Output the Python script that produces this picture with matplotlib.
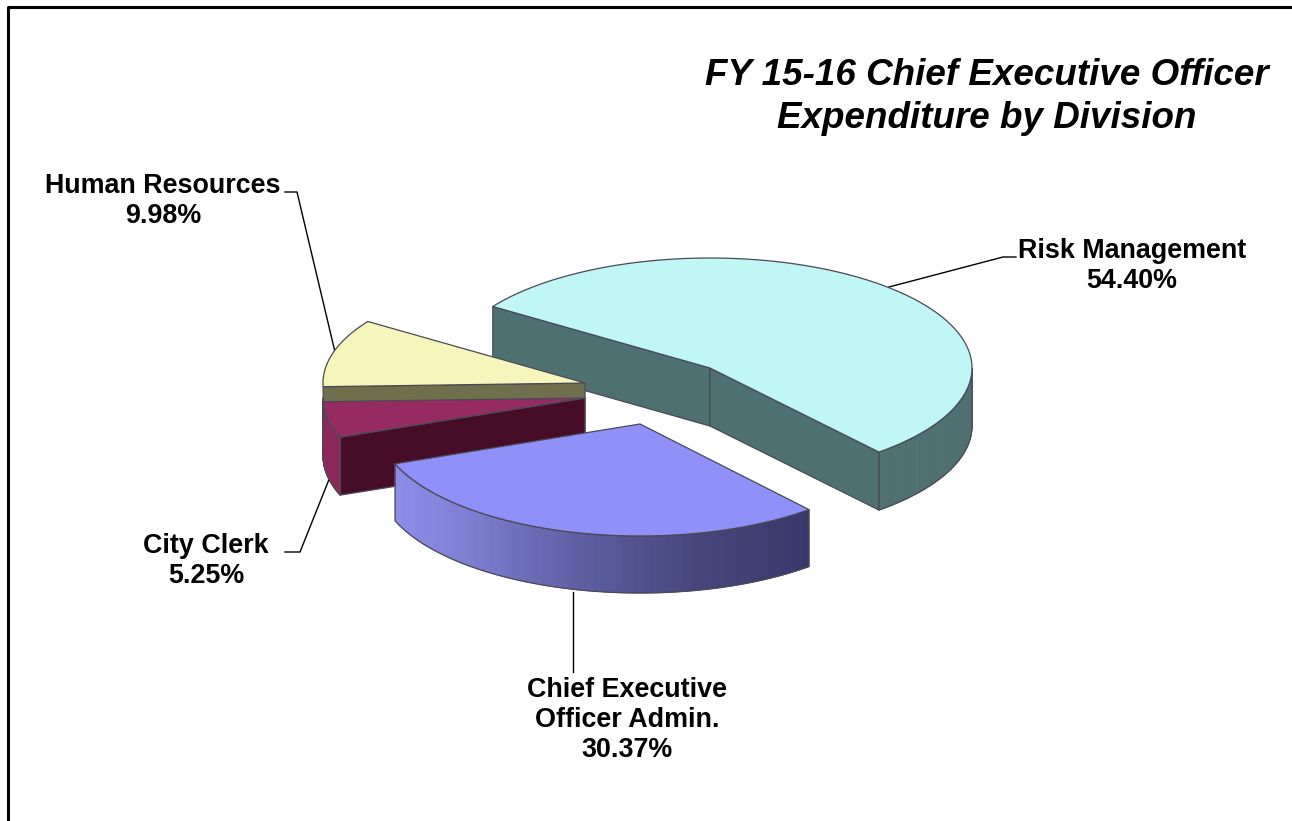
#!/usr/bin/env python3
"""FY 15-16 Chief Executive Officer expenditure by division, as a 3-D style pie."""
import numpy as np
import matplotlib

matplotlib.use("Agg")
import matplotlib.pyplot as plt
from matplotlib.colors import to_rgb
from matplotlib.patches import Polygon

WIDTH, HEIGHT = 1292, 821

DIVISIONS = ["Risk Management", "Chief Executive\nOfficer Admin.", "City Clerk", "Human Resources"]
SHARES = [54.40, 30.37, 5.25, 9.98]

TOP_COLORS = ["#c0f6f6", "#8f90f8", "#962a62", "#f6f6bc"]
EDGE = "#4a4a55"

# pie geometry in pixels
START = 146.0
RX = 262.0
RY = [110.0, 112.0, 110.0, 110.0]
DEPTH = [58.0, 57.0, 58.0, 58.0]
CENTERS = [(710, 368), (640, 424), (585, 398), (585, 383)]


def arc(i, a0, a1, n=90):
    cx, cy = CENTERS[i]
    t = np.radians(np.linspace(a0, a1, n))
    return np.column_stack([cx + RX * np.cos(t), cy - RY[i] * np.sin(t)])


def add_poly(ax, pts, face, z, edge=EDGE, lw=0.9):
    ax.add_patch(Polygon(pts, closed=True, facecolor=face, edgecolor=edge, linewidth=lw,
                         joinstyle="round", zorder=z))


def draw_rim(ax, i, a0, a1, stops, z):
    """Outer curved wall between angles a0 and a1, shaded through the colour stops."""
    pts = arc(i, a0, a1)
    drop = np.array([0, DEPTH[i]])
    rgb = np.array([to_rgb(c) for c in stops])
    pos = np.linspace(0, 1, len(stops))
    n = len(pts) - 1
    for k in range(n):
        f = k / max(n - 1, 1)
        col = [np.interp(f, pos, rgb[:, j]) for j in range(3)]
        p, q = pts[k], pts[k + 1]
        ax.add_patch(Polygon([p, q, q + drop, p + drop], closed=True, facecolor=col,
                             edgecolor=col, linewidth=0.6, zorder=z))
    add_poly(ax, np.vstack([pts, pts[::-1] + drop]), "none", z)


def cut_wall(ax, i, ang, color, z):
    rim = arc(i, ang, ang, 1)[0]
    apex = np.array(CENTERS[i], dtype=float)
    drop = np.array([0, DEPTH[i]])
    add_poly(ax, [apex, rim, rim + drop, apex + drop], color, z)


def main():
    plt.rcParams["font.family"] = ["Liberation Sans", "DejaVu Sans"]
    fig = plt.figure(figsize=(WIDTH / 100, HEIGHT / 100), dpi=100)
    ax = fig.add_axes([0, 0, 1, 1])
    ax.set_xlim(0, WIDTH)
    ax.set_ylim(HEIGHT, 0)
    ax.axis("off")

    # slice angles run clockwise from START
    sweep = np.array(SHARES) * 3.6
    ends = START - np.cumsum(sweep)
    starts = ends + sweep

    # risk management sits behind the rest
    wall = "#4f7070"
    cut_wall(ax, 0, starts[0], wall, 2)
    cut_wall(ax, 0, ends[0], wall, 2)
    draw_rim(ax, 0, ends[0], 0, [wall, wall], 2)
    add_poly(ax, np.vstack([CENTERS[0], arc(0, starts[0], ends[0])]), TOP_COLORS[0], 3)

    # human resources: only the strip of the cut face above the clerk slice shows
    cut_wall(ax, 3, starts[3], "#6f6f4e", 4)
    add_poly(ax, np.vstack([CENTERS[3], arc(3, starts[3], ends[3])]), TOP_COLORS[3], 5)

    # city clerk
    cut_wall(ax, 2, starts[2], "#470c27", 6)
    draw_rim(ax, 2, -180, starts[2], ["#8c285c", "#8c285c"], 6)
    add_poly(ax, np.vstack([CENTERS[2], arc(2, starts[2], ends[2])]), TOP_COLORS[2], 7)

    # chief executive, in front
    draw_rim(ax, 1, ends[1], starts[1], ["#8d8eea", "#7f80d4", "#5f60a4", "#46467c", "#38386c"], 8)
    add_poly(ax, np.vstack([CENTERS[1], arc(1, starts[1], ends[1])]), TOP_COLORS[1], 9)

    # leader lines
    leaders = [
        ([889, 1003, 1016], [287, 257, 257]),
        ([573, 573], [592, 672]),
        ([330, 300, 285], [477, 552, 552]),
        ([335, 297, 285], [352, 192, 192]),
    ]
    for xs, ys in leaders:
        ax.plot(xs, ys, color="black", linewidth=1.0, zorder=1)

    label_kw = dict(fontsize=19.4, fontweight="bold", ha="center", va="center", linespacing=1.2)
    ax.text(1132, 266, f"{DIVISIONS[0]}\n{SHARES[0]:.2f}%", **label_kw)
    ax.text(627, 720, f"{DIVISIONS[1]}\n{SHARES[1]:.2f}%", **label_kw)
    ax.text(206, 561, f"{DIVISIONS[2]}\n{SHARES[2]:.2f}%", **label_kw)
    ax.text(163, 201, f"{DIVISIONS[3]}\n{SHARES[3]:.2f}%", **label_kw)

    ax.text(987, 97, "FY 15-16 Chief Executive Officer\nExpenditure by Division", fontsize=26.5,
            fontweight="bold", fontstyle="italic", ha="center", va="center", linespacing=1.26)

    # chart frame: only the top and left edges fall inside the picture
    ax.plot([8, 8, WIDTH], [HEIGHT, 7, 7], color="black", linewidth=2.2, zorder=10)

    fig.savefig("out.png", dpi=100)


if __name__ == "__main__":
    main()
